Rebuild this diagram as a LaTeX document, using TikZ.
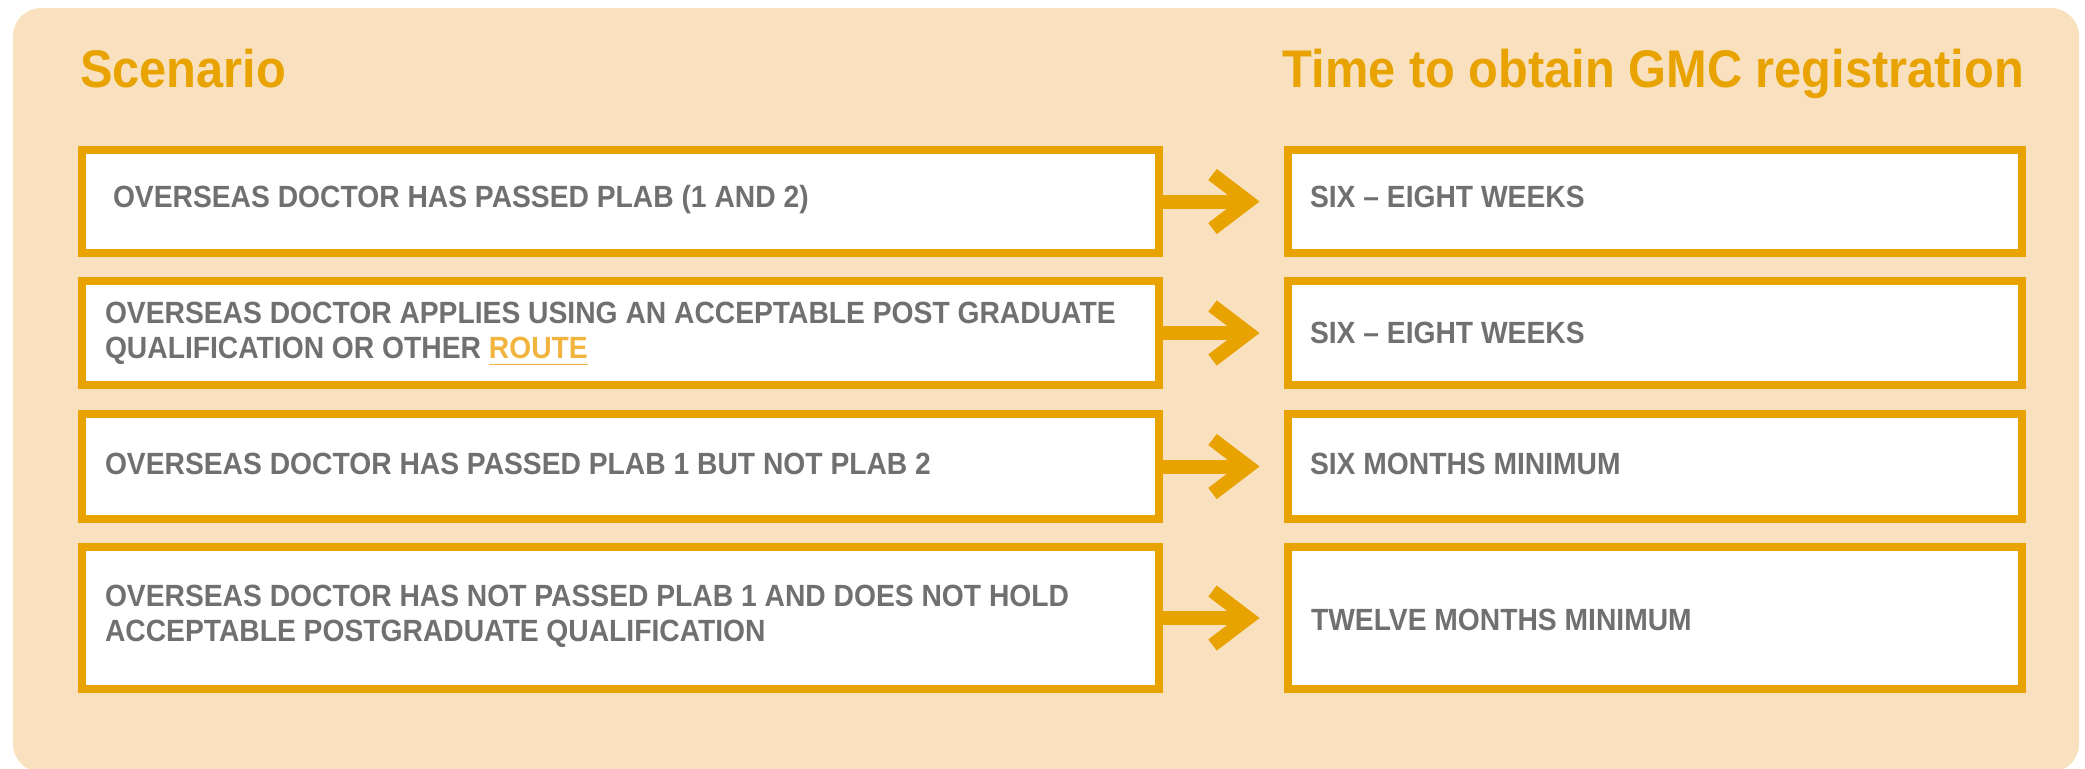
\documentclass[tikz,border=0pt]{standalone}
\usepackage{fontspec}
\setmainfont{Liberation Sans}[FakeStretch=0.92]
\usetikzlibrary{calc,fit}
\definecolor{bgc}{HTML}{F9E1BF}
\definecolor{orc}{HTML}{E8A300}
\definecolor{txc}{HTML}{707070}
\definecolor{routec}{HTML}{F0B43F}
\newcommand\ulword[1]{\setbox0\hbox{#1}\rlap{\rule[-3.6pt]{\wd0}{0.8pt}}\box0}
\tikzset{
  box/.style={draw=orc, fill=white, line width=4pt, inner sep=0pt, outer sep=0pt},
  boxtext/.style={anchor=base west, inner sep=0pt, outer sep=0pt, text=txc, align=left,
    font=\fontsize{15.35pt}{17.5pt}\selectfont\bfseries},
  title/.style={inner sep=0pt, outer sep=0pt, text=orc, font=\fontsize{26.5pt}{30pt}\selectfont\bfseries},
  shaft/.style={draw=orc, line width=7pt},
  chev/.style={draw=orc, line width=7pt, miter limit=10, line join=miter}
}
\begin{document}
\begin{tikzpicture}[x=0.5pt,y=-0.5pt]
\clip (0,0) rectangle (2085,768);
\path[fill=bgc, rounded corners=14pt] (13,8) rectangle (2079,772);

\node[title, anchor=base west] (t1) at (80,87) {Scenario};
\node[title, anchor=base east] (t2) at (2024,87) {Time to obtain GMC registration};

\coordinate (l1a) at (82,150);  \coordinate (l1b) at (1159,253);
\coordinate (l2a) at (82,281);  \coordinate (l2b) at (1159,385);
\coordinate (l3a) at (82,414);  \coordinate (l3b) at (1159,519);
\coordinate (l4a) at (82,547);  \coordinate (l4b) at (1159,689);
\coordinate (r1a) at (1288,150);  \coordinate (r1b) at (2022,253);
\coordinate (r2a) at (1288,281);  \coordinate (r2b) at (2022,385);
\coordinate (r3a) at (1288,414);  \coordinate (r3b) at (2022,519);
\coordinate (r4a) at (1288,547);  \coordinate (r4b) at (2022,689);

\foreach \i in {1,2,3,4}{
  \node[box, fit=(l\i a)(l\i b)] (L\i) {};
  \node[box, fit=(r\i a)(r\i b)] (R\i) {};
}

\node[boxtext] (lt1) at (113,207) {OVERSEAS DOCTOR HAS PASSED PLAB (1 AND 2)};
\node[boxtext] (lt2) at (105,358) {OVERSEAS DOCTOR APPLIES USING AN ACCEPTABLE POST GRADUATE\\QUALIFICATION OR OTHER {\color{routec}\ulword{ROUTE}}};
\node[boxtext] (lt3) at (105,474) {OVERSEAS DOCTOR HAS PASSED PLAB 1 BUT NOT PLAB 2};
\node[boxtext] (lt4) at (105,641) {OVERSEAS DOCTOR HAS NOT PASSED PLAB 1 AND DOES NOT HOLD\\ACCEPTABLE POSTGRADUATE QUALIFICATION};

\node[boxtext] (rt1) at (1310,207) {SIX -- EIGHT WEEKS};
\node[boxtext] (rt2) at (1310,343) {SIX -- EIGHT WEEKS};
\node[boxtext] (rt3) at (1310,474) {SIX MONTHS MINIMUM};
\node[boxtext] (rt4) at (1311,630) {TWELVE MONTHS MINIMUM};

\foreach \i in {1,2,3,4}{
  \coordinate (A\i) at ($(R\i.west)+(-40,0)$);
  \draw[shaft] (L\i.east) -- (A\i);
  \draw[chev] ($(A\i)+(-35.5,-27)$) -- (A\i) -- ($(A\i)+(-35.5,27)$);
}
\end{tikzpicture}
\end{document}
